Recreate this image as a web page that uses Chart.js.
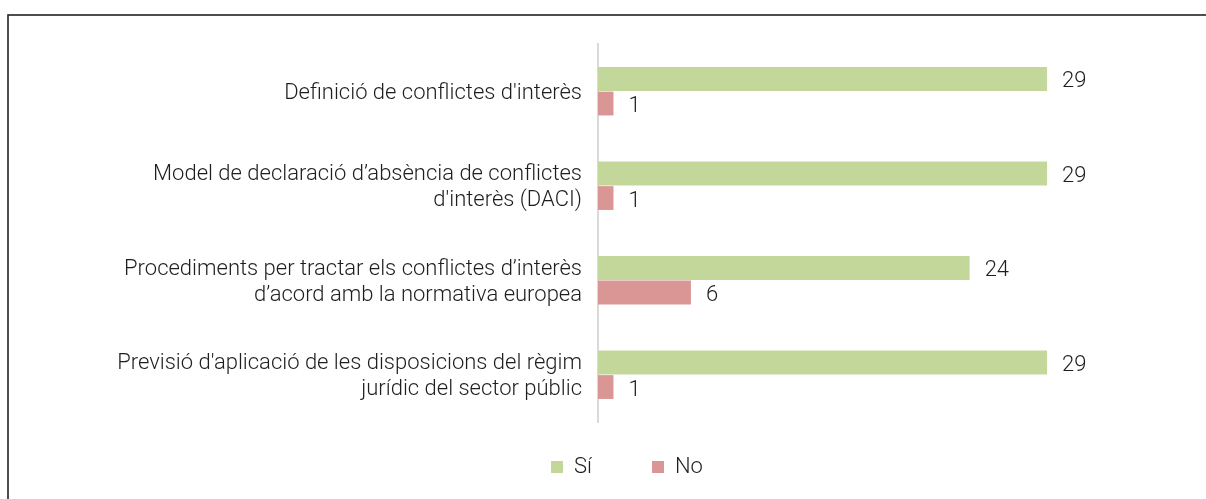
<!DOCTYPE html>
<html>
<head>
<meta charset="utf-8">
<script src="https://cdn.jsdelivr.net/npm/chart.js@4/dist/chart.umd.min.js"></script>
<style>
  html, body { margin: 0; padding: 0; background: #fff; }
  canvas { display: block; }
</style>
</head>
<body>
<canvas id="c" width="1206" height="499"></canvas>
<script>
const categories = [
  ["Definició de conflictes d'interès"],
  ["Model de declaració d’absència de conflictes", "d'interès (DACI)"],
  ["Procediments per tractar els conflictes d’interès", "d’acord amb la normativa europea"],
  ["Previsió d'aplicació de les disposicions del règim", "jurídic del sector públic"]
];
const seriesNames = ["Sí", "No"];
const valuesSi = [29, 29, 24, 29];
const valuesNo = [1, 1, 6, 1];
const colors = ["#c4d79b", "#d99694"];

const FONT = "Roboto, 'Liberation Sans', Arial, sans-serif";
const TEXT = "#1e1e1e";
const FSIZE = 22;

const frame = {
  id: 'frame',
  beforeDraw(chart) {
    const ctx = chart.ctx;
    ctx.save();
    ctx.fillStyle = '#ffffff';
    ctx.fillRect(0, 0, chart.width, chart.height);
    ctx.strokeStyle = '#222222';
    ctx.lineWidth = 1.6;
    ctx.strokeRect(8, 15, 1400, 700);
    ctx.restore();
  }
};

const legendShift = {
  id: 'legendShift',
  afterLayout(chart) {
    const lg = chart.legend;
    if (lg) { lg.top = 396; lg.bottom = 499; lg.height = 103; }
  }
};

const valueLabels = {
  id: 'valueLabels',
  afterDatasetsDraw(chart) {
    const ctx = chart.ctx;
    ctx.save();
    ctx.font = "300 " + FSIZE + "px " + FONT;
    ctx.fillStyle = TEXT;
    ctx.textAlign = 'left';
    ctx.textBaseline = 'middle';
    chart.data.datasets.forEach((ds, i) => {
      const meta = chart.getDatasetMeta(i);
      meta.data.forEach((el, j) => {
        ctx.fillText(String(ds.data[j]), el.x + 15, el.y + 3);
      });
    });
    ctx.restore();
  }
};

new Chart(document.getElementById('c'), {
  type: 'bar',
  data: {
    labels: categories,
    datasets: [
      { label: seriesNames[0], data: valuesSi, backgroundColor: colors[0] },
      { label: seriesNames[1], data: valuesNo, backgroundColor: colors[1] }
    ]
  },
  options: {
    indexAxis: 'y',
    responsive: false,
    animation: false,
    events: [],
    layout: { padding: { left: 114, right: 66, top: 44, bottom: 37 } },
    datasets: { bar: { categoryPercentage: 0.52, barPercentage: 0.97 } },
    scales: {
      x: { display: false, min: 0, max: 35 },
      y: {
        grid: { display: false, drawTicks: false },
        border: { display: true, color: '#d9d9d9', width: 2 },
        ticks: {
          padding: 16,
          labelOffset: 2,
          color: TEXT,
          font: { family: FONT, size: FSIZE, weight: '300', lineHeight: 1.18 }
        },
        afterFit(scale) { scale.width = 598 - 114; }
      }
    },
    plugins: {
      tooltip: { enabled: false },
      legend: {
        position: 'bottom',
        maxHeight: 40,
        labels: {
          boxWidth: 12,
          boxHeight: 12,
          padding: 60,
          color: TEXT,
          font: { family: FONT, size: FSIZE, weight: '300' }
        }
      }
    }
  },
  plugins: [frame, legendShift, valueLabels]
});
</script>
</body>
</html>
